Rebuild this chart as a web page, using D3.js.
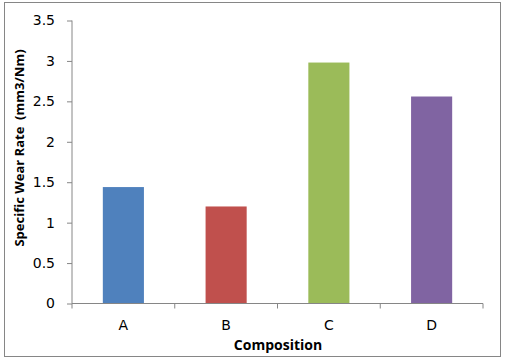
<!DOCTYPE html>
<html><head><meta charset="utf-8">
<script src="https://cdn.jsdelivr.net/npm/d3@7"></script>
<style>body{margin:0;background:#fff}svg{display:block}</style>
</head><body>
<svg id="c" width="505" height="362"></svg>
<script>
const categories = ["A", "B", "C", "D"];
const values = [1.44, 1.20, 2.98, 2.56];
const colors = ["#4F81BD", "#C0504D", "#9BBB59", "#8064A2"];
const yTicks = [0, 0.5, 1, 1.5, 2, 2.5, 3, 3.5];
const xTitle = "Composition";
const yTitle = "Specific Wear Rate  (mm3/Nm)";

const svg = d3.select("#c");
const tickFont = "'DejaVu Sans', sans-serif";
const titleFont = "'Open Sans', 'Liberation Sans', sans-serif";
svg.append("rect").attr("x", 4.5).attr("y", 2.5).attr("width", 496).attr("height", 354)
  .attr("fill", "#fff").attr("stroke", "#868686").attr("stroke-width", 1);

const m = {left: 72, right: 483, top: 20.5, bottom: 303.5};
const x = d3.scaleBand().domain(categories).range([m.left, m.right]).paddingInner(0.6).paddingOuter(0.3);
const y = d3.scaleLinear().domain([0, 3.5]).range([m.bottom, m.top]);

svg.selectAll(".bar").data(values).enter().append("rect")
  .attr("x", (d, i) => x(categories[i]))
  .attr("width", x.bandwidth())
  .attr("y", d => y(d))
  .attr("height", d => y(0) - y(d))
  .attr("fill", (d, i) => colors[i]);

const ya = svg.append("g").attr("transform", `translate(${m.left},0)`)
  .call(d3.axisLeft(y).tickValues(yTicks).tickSize(5).tickPadding(12).tickFormat(d3.format("")));
const xa = svg.append("g").attr("transform", `translate(0,${m.bottom})`)
  .call(d3.axisBottom(x).tickSize(0).tickPadding(17));
const bounds = [m.left].concat(categories.map(c => x(c) + x.bandwidth() / 2 + x.step() / 2));
xa.selectAll(".bt").data(bounds).enter().append("line").attr("class", "bt")
  .attr("x1", d => d).attr("x2", d => d).attr("y1", 0).attr("y2", 5).attr("stroke", "#868686");

[ya, xa].forEach(a => {
  a.selectAll("path,line").attr("stroke", "#868686");
  a.selectAll("text").attr("font-family", tickFont).attr("font-size", 14).attr("fill", "#000");
});
ya.select(".domain").attr("d", `M0,${m.top}V${m.bottom}`);
xa.select(".domain").attr("d", `M${m.left},0H${m.right}`);

svg.append("text").attr("x", 278).attr("y", 350).attr("text-anchor", "middle")
  .attr("font-family", titleFont).attr("font-weight", "bold").attr("font-size", 14).text(xTitle);
svg.append("text").attr("transform", "translate(24,148) rotate(-90)").attr("text-anchor", "middle")
  .style("white-space", "pre")
  .attr("font-family", titleFont).attr("font-weight", "bold").attr("font-size", 13).text(yTitle);
</script>
</body></html>
